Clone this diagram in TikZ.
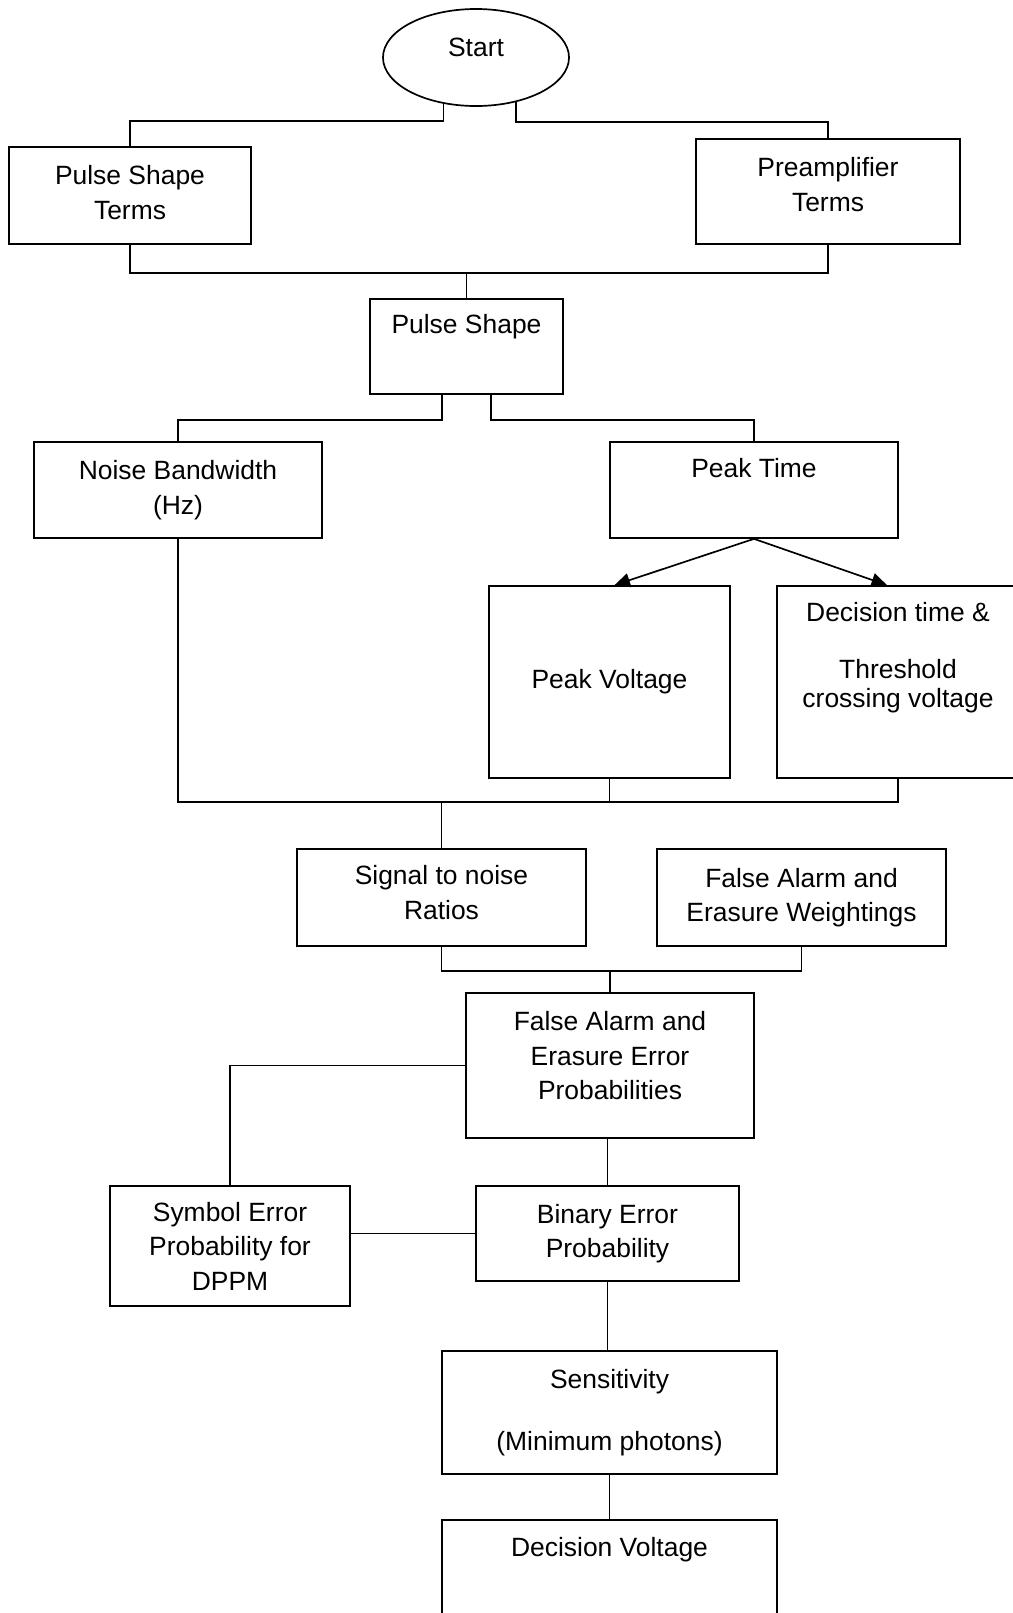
\documentclass[tikz,border=0pt]{standalone}
\usepackage{fontspec}
\setmainfont{Liberation Sans}
\usetikzlibrary{arrows.meta,calc,shapes.geometric}
\newcommand{\textlift}[1]{\rule[-#1]{0pt}{#1}}
\tikzset{
  flow font/.style={font=\fontsize{18.8}{24.6}\selectfont},
  flow box/.style={
    rectangle, draw=black, line width=1.2pt, align=center,
    flow font
  },
  flow start/.style={
    ellipse, draw=black, line width=1.2pt, flow font,
    minimum width=4.65cm, minimum height=2.425cm
  },
  flow line/.style={line width=1.2pt, black},
  flow arrow/.style={flow line, -{Triangle[length=11pt,width=10pt]}}
}

\begin{document}
\begin{tikzpicture}[x=0.025cm, y=-0.025cm]
    \useasboundingbox (0,0) rectangle (1013,1613);
    \clip (0,0) rectangle (1013,1613);
    \node[flow start] (start) at (476,57.5) {Start\textlift{15pt}};
    \node[flow box, minimum width=6.05cm, minimum height=2.425cm] (pst) at (130,195.5) {Pulse Shape\\Terms\textlift{4pt}};
    \node[flow box, minimum width=6.6cm, minimum height=2.625cm] (pre) at (828,191.5) {Preamplifier\\Terms\textlift{10pt}};
    \node[flow box, minimum width=4.825cm, minimum height=2.375cm] (ps) at (466.5,346.5) {Pulse Shape\textlift{32pt}};
    \node[flow box, minimum width=7.2cm, minimum height=2.4cm] (noise) at (178,490) {Noise Bandwidth\\(Hz)};
    \node[flow box, minimum width=7.2cm, minimum height=2.4cm] (peak) at (754,490) {Peak Time\textlift{31pt}};
    \node[flow box, minimum width=6.025cm, minimum height=4.8cm] (pv) at (609.5,682) {Peak Voltage};
    \node[flow box, minimum width=6.05cm, minimum height=4.8cm] (dt) at (898,682) {Decision time \&\\[16pt]Threshold\\[-4pt]crossing voltage\textlift{38pt}};
    \node[flow box, minimum width=7.225cm, minimum height=2.425cm] (signal) at (441.5,897.5) {Signal to noise\\Ratios\textlift{7pt}};
    \node[flow box, minimum width=7.225cm, minimum height=2.425cm] (faw) at (801.5,897.5) {False Alarm and\\Erasure Weightings};
    \node[flow box, minimum width=7.2cm, minimum height=3.625cm] (faep) at (610,1065.5) {False Alarm and\\Erasure Error\\Probabilities\textlift{14pt}};
    \node[flow box, minimum width=6cm, minimum height=3cm] (symbol) at (230,1246) {Symbol Error\\Probability for\\DPPM};
    \node[flow box, minimum width=6.575cm, minimum height=2.375cm] (binary) at (607.5,1233.5) {Binary Error\\Probability};
    \node[flow box, minimum width=8.375cm, minimum height=3.075cm] (sens) at (609.5,1412.5) {Sensitivity\\[19.5pt](Minimum photons)};
    \node[flow box, minimum width=8.375cm, minimum height=3cm] (dv) at (609.5,1580) {Decision Voltage\textlift{47pt}};
    \draw[flow line] (start.235) -- ++(0,17) -| (pst.north);
    \draw[flow line] (start.312) -- ++(0,20) -| (pre.north);
    \draw[flow line] (pst.south) -- ++(0,28) coordinate (termsbus) -| (pre.south);
    \draw[flow line] (ps.north) -- (ps.north |- termsbus);
    \draw[flow line] ($(ps.south)+(-24.5,0)$) -- ++(0,25) -| (noise.north);
    \draw[flow line] ($(ps.south)+(24.5,0)$) -- ++(0,25) -| (peak.north);
    \draw[flow arrow] (peak.south) -- ($(pv.north)+(5,0)$);
    \draw[flow arrow] (peak.south) -- ($(dt.north)+(-11,0)$);
    \draw[flow line] (pv.south) -- ++(0,23) coordinate (snrbus);
    \draw[flow line] (noise.south) |- (dt.south |- snrbus) -- (dt.south);
    \draw[flow line] (signal.north) -- (signal.north |- snrbus);
    \draw[flow line] (signal.south) -- ++(0,24) coordinate (probbus) -| (faw.south);
    \draw[flow line] (faep.north) -- (faep.north |- probbus);
    \draw[flow line] (faep.west) -| (symbol.north);
    \draw[flow line] (binary.north) -- (binary.north |- faep.south);
    \draw[flow line] (binary.west) -- (binary.west -| symbol.east);
    \draw[flow line] (binary.south) -- (binary.south |- sens.north);
    \draw[flow line] (sens.south) -- (dv.north);
\end{tikzpicture}
\end{document}
